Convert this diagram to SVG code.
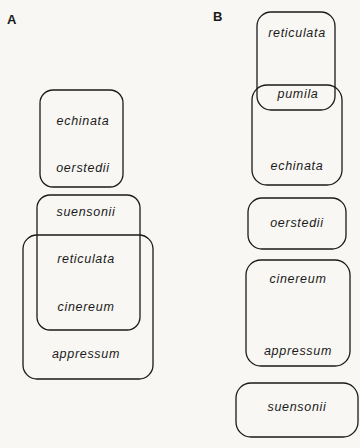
<svg xmlns="http://www.w3.org/2000/svg" width="360" height="448" viewBox="0 0 360 448">
<style>
.box{fill:none;stroke:#1a1a1a;stroke-width:1.3}
.lbl{font-family:"Liberation Sans",Arial,sans-serif;font-style:italic;font-size:12.5px;letter-spacing:0.7px;fill:#1a1a1a;text-anchor:middle}
.pan{font-family:"Liberation Sans",Arial,sans-serif;font-weight:bold;font-size:13px;fill:#1a1a1a}
</style>
<rect x="0" y="0" width="360" height="448" fill="#f8f7f3"/>
<text class="pan" x="7" y="24">A</text>
<text class="pan" x="213" y="21">B</text>
<g id="A-echinata-oerstedii">
<rect class="box" x="40" y="90" width="83" height="97" rx="13"/>
<text class="lbl" x="83" y="125">echinata</text>
<text class="lbl" x="83" y="172">oerstedii</text>
</g>
<g id="A-suensonii">
<rect class="box" x="37" y="195" width="103" height="135" rx="13"/>
<text class="lbl" x="86" y="216">suensonii</text>
</g>
<g id="A-appressum">
<rect class="box" x="23" y="235" width="130" height="144" rx="14"/>
<text class="lbl" x="86" y="263">reticulata</text>
<text class="lbl" x="86" y="311">cinereum</text>
<text class="lbl" x="86" y="358">appressum</text>
</g>
<g id="B-reticulata">
<rect class="box" x="257" y="12" width="78" height="98" rx="14"/>
<text class="lbl" x="297" y="37">reticulata</text>
<text class="lbl" x="298" y="98">pumila</text>
</g>
<g id="B-echinata">
<rect class="box" x="252" y="85" width="90" height="100" rx="15"/>
<text class="lbl" x="297" y="170">echinata</text>
</g>
<g id="B-oerstedii">
<rect class="box" x="248" y="198" width="98" height="51" rx="14"/>
<text class="lbl" x="297" y="227">oerstedii</text>
</g>
<g id="B-cinereum-appressum">
<rect class="box" x="246" y="260" width="104" height="106" rx="15"/>
<text class="lbl" x="298" y="283">cinereum</text>
<text class="lbl" x="298" y="355">appressum</text>
</g>
<g id="B-suensonii">
<rect class="box" x="236" y="383" width="122" height="54" rx="15"/>
<text class="lbl" x="297" y="411">suensonii</text>
</g>
<g id="connectors"></g>
</svg>
